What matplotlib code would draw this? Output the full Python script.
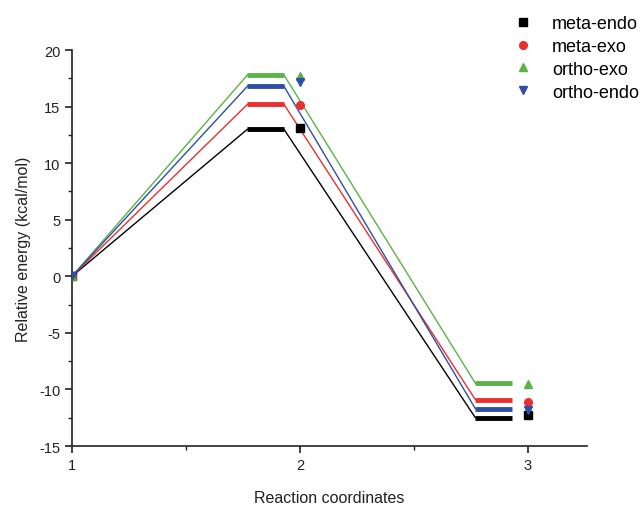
import matplotlib
matplotlib.use("Agg")
import matplotlib.pyplot as plt
from matplotlib.ticker import MultipleLocator

plt.rcParams['font.family'] = ['Liberation Sans', 'DejaVu Sans']
plt.rcParams['axes.unicode_minus'] = False

series = ["meta-endo", "meta-exo", "ortho-exo", "ortho-endo"]
coords = [1, 2, 3]
# energy levels (bars) at reactant, TS, product
levels_ts = [13.0, 15.2, 17.8, 16.8]
levels_prod = [-12.5, -10.9, -9.45, -11.7]
# scatter markers at coordinates 1, 2, 3
markers_ts = [13.1, 15.1, 17.7, 17.2]
markers_prod = [-12.3, -11.1, -9.5, -11.8]

colors = ["#000000", "#e8312f", "#5cb345", "#2f4ea6"]
mks = ["s", "o", "^", "v"]

fig = plt.figure(figsize=(6.4, 5.06), dpi=100)
ax = fig.add_axes([0.1125, 0.1166, 0.8047, 0.7826])

lvl_off0, lvl_off1 = -0.23, -0.07
for i, name in enumerate(series):
    c = colors[i]
    ts, pr = levels_ts[i], levels_prod[i]
    # connecting lines
    ax.plot([coords[0], coords[1] + lvl_off0], [0, ts], color=c, lw=1.0, zorder=2)
    ax.plot([coords[1] + lvl_off1, coords[2] + lvl_off0], [ts, pr], color=c, lw=1.0, zorder=2)
    # levels
    ax.plot([coords[1] + lvl_off0, coords[1] + lvl_off1], [ts, ts], color=c, lw=3.5,
            solid_capstyle='butt', zorder=3)
    ax.plot([coords[2] + lvl_off0, coords[2] + lvl_off1], [pr, pr], color=c, lw=3.5,
            solid_capstyle='butt', zorder=3)
    # markers
    ax.plot(coords, [0, markers_ts[i], markers_prod[i]], ls='none', marker=mks[i],
            color=c, ms=5.5, label=name, zorder=4)

ax.set_xlim(1, 3.26)
ax.set_ylim(-15, 20)
ax.xaxis.set_major_locator(MultipleLocator(1))
ax.xaxis.set_minor_locator(MultipleLocator(0.5))
ax.yaxis.set_major_locator(MultipleLocator(5))
ax.yaxis.set_minor_locator(MultipleLocator(2.5))
ax.set_xticks([1, 2, 3])
ax.set_xticklabels(["1", "2", "3"])
for s in ["top", "right"]:
    ax.spines[s].set_visible(False)
for s in ["left", "bottom"]:
    ax.spines[s].set_linewidth(1.2)
    ax.spines[s].set_color("#222222")
ax.tick_params(which='major', direction='out', length=5, width=1.2, labelsize=10.5, colors="#222222")
ax.tick_params(which='minor', direction='out', length=3, width=1.0, colors="#222222")
ax.set_xlabel("Reaction coordinates", fontsize=11.5, labelpad=13, color="#222222")
ax.set_ylabel("Relative energy (kcal/mol)", fontsize=11.5, labelpad=6, color="#222222")

fig.legend(loc='upper left', bbox_to_anchor=(0.775, 1.0), frameon=False,
           fontsize=13, handlelength=1.2, handletextpad=1.0, labelspacing=0.32,
           markerscale=1.0)

fig.savefig("out.png", dpi=100)
